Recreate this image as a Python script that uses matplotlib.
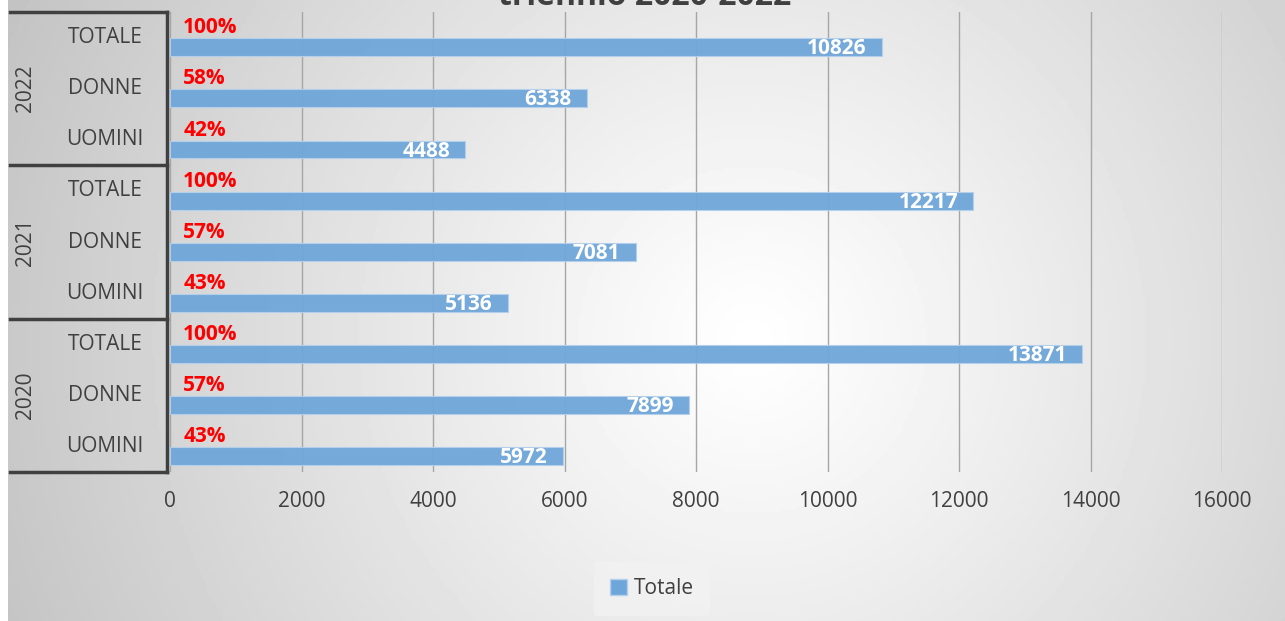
import numpy as np
import matplotlib
matplotlib.use('Agg')
import matplotlib.pyplot as plt
from matplotlib.patches import Patch
from matplotlib.lines import Line2D

plt.rcParams['font.family'] = ['Open Sans', 'DejaVu Sans']

# data (bottom to top: 2020, 2021, 2022)
years = ['2020', '2021', '2022']
groups = ['UOMINI', 'DONNE', 'TOTALE']
vals_2020 = [5972, 7899, 13871]
vals_2021 = [5136, 7081, 12217]
vals_2022 = [4488, 6338, 10826]
pct_2020 = ['43%', '57%', '100%']
pct_2021 = ['43%', '57%', '100%']
pct_2022 = ['42%', '58%', '100%']
xticks = [0, 2000, 4000, 6000, 8000, 10000, 12000, 14000, 16000]
title = 'triennio 2020-2022'
legend_label = 'Totale'

values = vals_2020 + vals_2021 + vals_2022
pcts = pct_2020 + pct_2021 + pct_2022
labels = groups * 3

W, H = 1285, 621
fig = plt.figure(figsize=(W / 100, H / 100), dpi=100)
fig.patch.set_facecolor('white')

# radial gradient background (Excel style)
bg = fig.add_axes([8 / W, 0, 1 - 8 / W, 1], zorder=0)
gx, gy = np.meshgrid(np.linspace(0, W - 8, 400), np.linspace(0, H, 200))
cx, cy = 745, 340
r = np.sqrt((gx - cx) ** 2 + (gy - cy) ** 2) / 800.0
shade = 1.0 - 0.23 * np.clip(r, 0, 1.1) ** 1.1
bg.imshow(shade, cmap='gray', vmin=0, vmax=1, aspect='auto', extent=[0, 1, 0, 1], origin='upper')
bg.set_axis_off()

ax = fig.add_axes([170 / W, 1 - 472 / H, (1222 - 170) / W, (472 - 12) / H], zorder=1)
ax.patch.set_alpha(0)

pos = np.arange(len(values))
bar_col = '#6FA6D9'
ax.barh(pos - 0.19, values, height=0.35, color=bar_col, alpha=0.95,
        edgecolor='#B4D0EC', linewidth=0.8, zorder=3)

for p, v, pc in zip(pos, values, pcts):
    ax.text(v - 230, p - 0.22, str(v), ha='right', va='center', color='white',
            fontsize=15, fontweight='bold', zorder=4)
    ax.text(200, p + 0.19, pc, ha='left', va='center', color='#FF0000',
            fontsize=15, fontweight='bold', zorder=4)

ax.set_xlim(0, 16000)
ax.set_ylim(-0.5, len(values) - 0.5)
ax.set_xticks(xticks)
ax.set_xticklabels([str(t) for t in xticks], fontsize=15, color='#404040')
ax.tick_params(axis='x', length=0, pad=14)
ax.set_yticks([])
ax.grid(axis='x', color='#A6A6A6', linewidth=1, zorder=1)
for s in ax.spines.values():
    s.set_visible(False)

# multi-level category table on the left
span = 1222 - 170
trans = ax.get_yaxis_transform()
x_left = -160 / span
x_right = -3 / span
line_kw = dict(color='#404040', linewidth=2.5, transform=trans, clip_on=False, zorder=5)
for yb in [-0.5, 2.5, 5.5, 8.5]:
    ax.add_line(Line2D([x_left, x_right], [yb, yb], **line_kw))
ax.add_line(Line2D([x_right, x_right], [-0.5, 8.5], **line_kw))

for p, lab in zip(pos, labels):
    ax.text(-65 / span, p, lab, transform=trans, ha='center', va='center',
            fontsize=15, color='#404040')
for i, yr in enumerate(years):
    ax.text(-144 / span, 3 * i + 1, yr, transform=trans, ha='center', va='center',
            rotation=90, fontsize=15, color='#404040')

fig.text(645 / W, 1 - 5 / H, title, ha='center', va='baseline', fontsize=23,
         fontweight='bold', color='#404040')

leg = fig.legend(handles=[Patch(facecolor=bar_col, edgecolor='#B4D0EC', label=legend_label)],
                 loc='center', bbox_to_anchor=(652 / W, 1 - 589 / H), fontsize=15,
                 frameon=True, handlelength=0.8, handleheight=0.8, handletextpad=0.3,
                 borderpad=0.8)
leg.get_frame().set_facecolor('#F2F2F2')
leg.get_frame().set_edgecolor('none')
leg.get_frame().set_alpha(0.8)
for t in leg.get_texts():
    t.set_color('#404040')

fig.savefig('out.png', dpi=100)
